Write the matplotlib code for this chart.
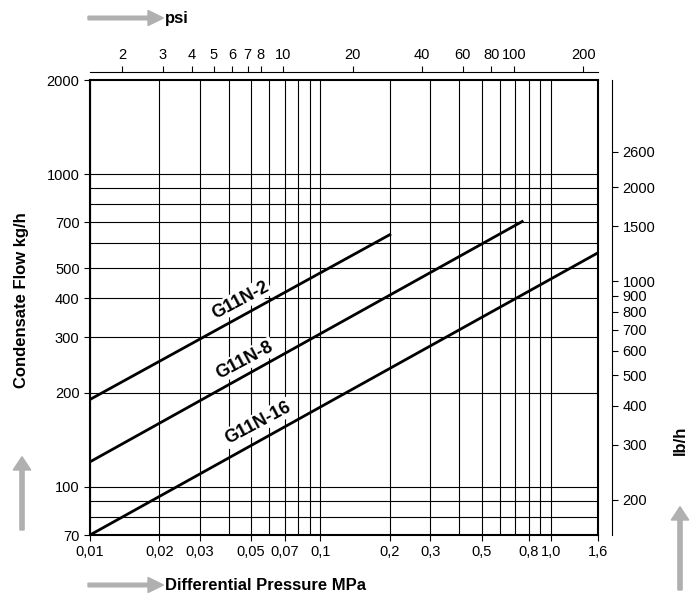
import numpy as np
import matplotlib
matplotlib.use("Agg")
import matplotlib.pyplot as plt

series = ["G11N-2", "G11N-8", "G11N-16"]
p_start = [0.01, 0.01, 0.01]
p_end = [0.2, 0.75, 1.6]
f_start = [190, 120, 70]
f_end = [640, 705, 560]
x_ticks = [0.01, 0.02, 0.03, 0.05, 0.07, 0.1, 0.2, 0.3, 0.5, 0.8, 1.0, 1.6]
x_labels = ["0,01", "0,02", "0,03", "0,05", "0,07", "0,1", "0,2", "0,3", "0,5", "0,8", "1,0", "1,6"]
y_ticks = [70, 100, 200, 300, 400, 500, 700, 1000, 2000]
psi_ticks = [2, 3, 4, 5, 6, 7, 8, 10, 20, 40, 60, 80, 100, 200]
lbh_ticks = [200, 300, 400, 500, 600, 700, 800, 900, 1000, 1500, 2000, 2600]
label_pos = [(0.045, 395, 28), (0.047, 254, 28), (0.0535, 160, 28)]

plt.rcParams['font.family'] = ['Liberation Sans', 'DejaVu Sans']
fig = plt.figure(figsize=(7, 6.04), dpi=100)
top, bot = 80, 535
ax = fig.add_axes([90/700, 1-bot/604, 508/700, (bot-top)/604])
ax.set_xscale('log'); ax.set_yscale('log')
ax.set_xlim(0.01, 1.6); ax.set_ylim(70, 2000)
grid_x = [k*10.0**e for e in (-2, -1) for k in range(1, 10)] + [1.0]
grid_y = [k*10.0**e for e in (1, 2) for k in range(1, 10) if k*10.0**e >= 70] + [1000]
for gx in grid_x:
    ax.axvline(gx, color='black', lw=0.8)
for gy in grid_y:
    ax.axhline(gy, color='black', lw=0.8)
for s, x0, x1, y0, y1 in zip(series, p_start, p_end, f_start, f_end):
    ax.plot([x0, x1], [y0, y1], color='black', lw=2)
for s, (lx, ly, rot) in zip(series, label_pos):
    ax.text(lx, ly, s, fontsize=13, fontweight='bold', rotation=rot, ha='center', va='center',
            bbox=dict(facecolor='white', edgecolor='none', pad=1))
ax.set_xticks(x_ticks); ax.set_xticklabels(x_labels)
ax.set_yticks(y_ticks); ax.set_yticklabels([str(v) for v in y_ticks])
ax.minorticks_off()
ax.tick_params(length=4, labelsize=10.5)
for sp in ax.spines.values():
    sp.set_linewidth(1.5)

axt = fig.add_axes([90/700, 1-72/604, 508/700, 0.0001])
axt.set_xscale('log'); axt.set_xlim(0.01*145.038, 1.6*145.038)
axt.set_xticks(psi_ticks); axt.set_xticklabels([str(v) for v in psi_ticks])
axt.minorticks_off()
axt.xaxis.tick_top(); axt.tick_params(axis='x', labelsize=10.5, length=4)
axt.set_yticks([])
for k in ('left', 'right', 'bottom'):
    axt.spines[k].set_visible(False)

axr = fig.add_axes([612/700, 1-bot/604, 0.0001, (bot-top)/604])
axr.set_yscale('log'); axr.set_ylim(70*2.20462, 2000*2.20462)
axr.set_yticks(lbh_ticks); axr.set_yticklabels([str(v) for v in lbh_ticks])
axr.minorticks_off()
axr.yaxis.tick_right(); axr.tick_params(axis='y', labelsize=10.5, length=4)
axr.set_xticks([])
for k in ('top', 'left', 'bottom'):
    axr.spines[k].set_visible(False)

fig.text(165/700, 1-18/604, "psi", fontsize=12, fontweight='bold', va='center')
fig.text(165/700, 1-585/604, "Differential Pressure MPa", fontsize=12, fontweight='bold', va='center')
fig.text(22/700, 1-300/604, "Condensate Flow kg/h", fontsize=12, fontweight='bold', rotation=90, ha='center', va='center')
fig.text(680/700, 1-440/604, "lb/h", fontsize=12, fontweight='bold', rotation=90, ha='center', va='center')
gray = '#b0b0b0'
fig.patches.append(matplotlib.patches.FancyArrow(88/700, 1-18/604, 60/700, 0, width=0.006, head_width=0.025, head_length=0.022, color=gray, transform=fig.transFigure))
fig.patches.append(matplotlib.patches.FancyArrow(88/700, 1-585/604, 60/700, 0, width=0.006, head_width=0.025, head_length=0.022, color=gray, transform=fig.transFigure))
fig.patches.append(matplotlib.patches.FancyArrow(22/700, 1-530/604, 0, 60/604, width=0.006, head_width=0.025, head_length=0.022, color=gray, transform=fig.transFigure))
fig.patches.append(matplotlib.patches.FancyArrow(680/700, 1-590/604, 0, 70/604, width=0.006, head_width=0.025, head_length=0.022, color=gray, transform=fig.transFigure))
fig.savefig("out.png", dpi=100)
